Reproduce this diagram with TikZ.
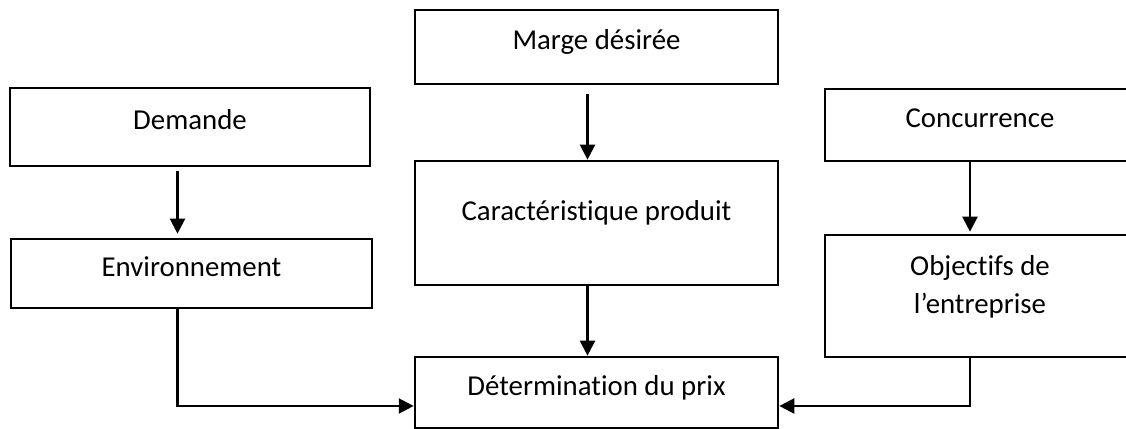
\documentclass[tikz,border=0pt]{standalone}
\usepackage{fontspec}
\setmainfont{Carlito}[Ligatures={NoCommon}]
\usetikzlibrary{positioning}
\usetikzlibrary{arrows.meta}

\tikzset{
  box/.style={draw, line width=1.5pt, inner sep=0pt,
    font=\fontsize{16.4pt}{21.6pt}\selectfont,
    text height=11.5pt, text depth=8.2pt},
  flow/.style={->, line width=1.3pt},
}

\begin{document}
\begin{tikzpicture}[%
  >={Triangle[length=8.5pt,width=8.5pt]},
]
  \useasboundingbox (0,0) rectangle (22.52,8.58);

  \node[box, minimum width=7.26cm, minimum height=1.48cm] (marge) at (11.93,7.64) {Marge désirée};
  \node[box, minimum width=7.20cm, minimum height=1.56cm] (demande) at (3.80,6.04) {Demande};
  \node[box, minimum width=6.20cm, minimum height=1.44cm] (concurrence) at (19.60,6.08) {Concurrence};
  \node[box, minimum width=7.26cm, minimum height=2.48cm,
    text height=8.2pt, text depth=11.2pt] (caract) at (11.93,4.12) {Caractéristique produit};
  \node[box, minimum width=7.22cm, minimum height=1.38cm] (environnement) at (3.83,3.11) {Environnement};
  \node[box, minimum width=6.20cm, minimum height=2.44cm,
    text height=, text depth=17.3pt] (objectifs) at (19.60,2.66)
    {\begin{tabular}[b]{@{}c@{}}Objectifs de\\ l’entreprise\end{tabular}};
  \node[box, minimum width=7.26cm, minimum height=1.42cm] (determination) at (11.93,0.73) {Détermination du prix};

  % columns of the arrows
  \coordinate (xl) at (3.55,0);
  \coordinate (xm) at (11.75,0);
  \coordinate (xr) at (19.40,0);
  \coordinate (yb) at (0,0.46);

  \draw[flow, shorten <=0.08cm, shorten >=0.08cm] (xl |- demande.south) -- (xl |- environnement.north);
  \draw[flow, shorten <=0.17cm] (xm |- marge.south) -- (xm |- caract.north);
  \draw[flow, shorten >=0.04cm] (xr |- concurrence.south) -- (xr |- objectifs.north);
  \draw[flow] (xm |- caract.south) -- (xm |- determination.north);

  \draw[flow] (xl |- environnement.south) |- (determination.west |- yb);
  \draw[flow] (xr |- objectifs.south) |- (determination.east |- yb);
  % \draw[flow] (caract) -- (determination);

\end{tikzpicture}
\end{document}
